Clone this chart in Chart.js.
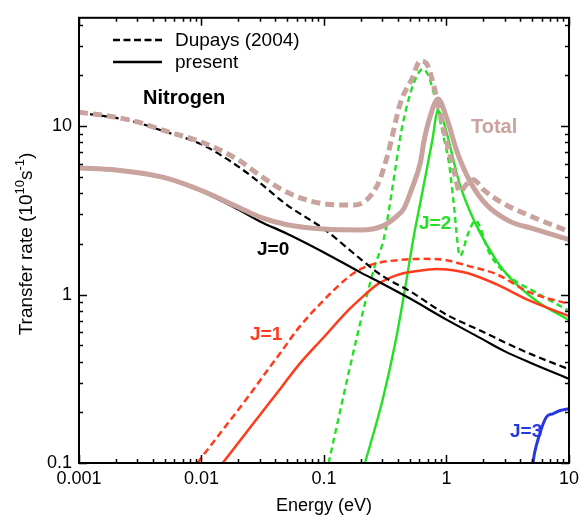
<!DOCTYPE html>
<html>
<head>
<meta charset="utf-8">
<script src="https://cdn.jsdelivr.net/npm/chart.js@4/dist/chart.umd.min.js"></script>
<style>
  html, body { margin: 0; padding: 0; background: #fff; }
</style>
</head>
<body>
<canvas id="c" width="584" height="520"></canvas>
<script>
// axis ticks
const xTicks = [0.001, 0.01, 0.1, 1, 10];
const xTickLabels = ['0.001', '0.01', '0.1', '1', '10'];
const yTicks = [0.1, 1, 10];
const yTickLabels = ['0.1', '1', '10'];
const yMax = 44;

// J=0
const j0PresentE = [0.001, 0.002, 0.003, 0.005, 0.01, 0.02, 0.03, 0.05, 0.1, 0.2, 0.3, 0.5, 1, 2, 3, 5, 10];
const j0PresentR = [5.6, 5.5, 5.25, 4.9, 4.1, 3.2, 2.72, 2.3, 1.78, 1.35, 1.16, 0.95, 0.71, 0.54, 0.46, 0.39, 0.316];
const j0DupaysE = [0.001, 0.002, 0.003, 0.005, 0.01, 0.02, 0.03, 0.05, 0.1, 0.2, 0.3, 0.5, 1, 2, 3, 5, 10];
const j0DupaysR = [12.0, 11.2, 10.5, 9.3, 7.8, 5.75, 4.6, 3.4, 2.45, 1.62, 1.29, 1.05, 0.76, 0.60, 0.52, 0.44, 0.36];

// J=1
const j1PresentE = [0.0149, 0.02, 0.03, 0.045, 0.0617, 0.1, 0.156, 0.2, 0.273, 0.4, 0.577, 0.83, 1, 1.5, 2.57, 4.78, 10];
const j1PresentR = [0.1, 0.132, 0.193, 0.282, 0.38, 0.56, 0.80, 0.95, 1.15, 1.31, 1.38, 1.42, 1.41, 1.34, 1.15, 0.92, 0.746];
const j1DupaysE = [0.00925, 0.015, 0.0243, 0.035, 0.045, 0.0617, 0.1, 0.156, 0.2, 0.273, 0.4, 0.65, 1, 1.5, 2.57, 4.78, 10];
const j1DupaysR = [0.1, 0.158, 0.25, 0.36, 0.46, 0.63, 0.93, 1.26, 1.42, 1.54, 1.6, 1.63, 1.60, 1.48, 1.32, 1.03, 0.88];

// J=2
const j2PresentE = [0.216, 0.3, 0.385, 0.45, 0.543, 0.614, 0.762, 0.853, 0.946, 1.29, 1.7, 2.57, 3.29, 5.4, 10];
const j2PresentR = [0.1, 0.235, 0.532, 1.0, 2.26, 3.57, 8.05, 12.4, 10.6, 4.47, 2.7, 1.58, 1.26, 0.92, 0.705];
const j2DupaysE = [0.109, 0.188, 0.257, 0.31, 0.36, 0.43, 0.51, 0.577, 0.634, 0.7, 0.8, 0.95, 1.05, 1.14, 1.29, 1.5, 1.72, 2.27, 3.5, 5, 10];
const j2DupaysR = [0.1, 0.582, 1.44, 2.2, 4.2, 9.5, 15.9, 20.0, 21.8, 20.5, 15.0, 8.5, 6.0, 3.6, 1.7, 2.3, 2.75, 1.73, 1.23, 1.06, 0.8];

// J=3
const j3PresentE = [5.08, 5.24, 5.57, 6.52, 7.38, 8.5, 10];
const j3PresentR = [0.1, 0.115, 0.137, 0.187, 0.196, 0.205, 0.21];

// Total
const totalPresentE = [0.001, 0.002, 0.005, 0.01, 0.02, 0.03, 0.05, 0.1, 0.2, 0.3, 0.4, 0.45, 0.51, 0.614, 0.653, 0.74, 0.853, 1.01, 1.22, 1.56, 2.13, 3.29, 5, 10];
const totalPresentR = [5.65, 5.5, 4.95, 4.15, 3.3, 2.88, 2.6, 2.45, 2.42, 2.55, 2.95, 3.25, 4.08, 6.14, 8.05, 11.6, 14.5, 11.0, 7.03, 4.68, 3.4, 2.72, 2.47, 2.12];
const totalDupaysE = [0.001, 0.002, 0.003, 0.005, 0.01, 0.02, 0.03, 0.05, 0.095, 0.177, 0.273, 0.33, 0.423, 0.52, 0.614, 0.7, 0.787, 0.946, 1.14, 1.29, 1.45, 1.66, 2.0, 2.73, 5, 10];
const totalDupaysR = [12.1, 11.3, 10.6, 9.4, 8.05, 6.3, 5.1, 4.05, 3.48, 3.4, 4.47, 6.71, 13.9, 19.0, 24.4, 23.0, 17.4, 9.64, 5.6, 4.08, 4.5, 4.8, 4.2, 3.57, 2.9, 2.37];

const BROWN = '#c9a39e';
const RED = '#ff3b1c';
const GREEN = '#22e022';
const BLUE = '#2638e0';
const FONT = '"Liberation Sans", Arial, Helvetica, sans-serif';

function pts(E, R) {
  return E.map((e, i) => ({ x: e, y: R[i] }));
}

function line(E, R, color, width, dash, order) {
  return {
    data: pts(E, R),
    borderColor: color,
    borderWidth: width,
    borderDash: dash || [],
    pointRadius: 0,
    fill: false,
    cubicInterpolationMode: 'monotone',
    order: order
  };
}

// inward ticks on all four sides, frame, labels and legend
const decor = {
  id: 'decor',
  afterDatasetsDraw(chart) {
    const { ctx, chartArea: a } = chart;
    const xs = chart.scales.x, ys = chart.scales.y;
    ctx.save();
    ctx.strokeStyle = '#000';
    ctx.lineWidth = 1.5;
    ctx.beginPath();
    xTicks.forEach(d => {
      for (let m = 1; m <= 9; m++) {
        const v = d * m;
        if (v > 10.0001) break;
        const px = Math.round(xs.getPixelForValue(v)) + 0.5;
        const len = m === 1 ? 8 : 4;
        ctx.moveTo(px, a.bottom); ctx.lineTo(px, a.bottom - len);
        ctx.moveTo(px, a.top); ctx.lineTo(px, a.top + len);
      }
    });
    yTicks.forEach(d => {
      for (let m = 1; m <= 9; m++) {
        const v = d * m;
        if (v > yMax) break;
        const py = Math.round(ys.getPixelForValue(v)) + 0.5;
        const len = m === 1 ? 8 : 4;
        ctx.moveTo(a.left, py); ctx.lineTo(a.left + len, py);
        ctx.moveTo(a.right, py); ctx.lineTo(a.right - len, py);
      }
    });
    ctx.stroke();

    ctx.lineWidth = 2;
    ctx.strokeRect(a.left, a.top, a.right - a.left, a.bottom - a.top);

    // legend
    ctx.lineWidth = 2.5;
    ctx.setLineDash([7, 3.5]);
    ctx.beginPath(); ctx.moveTo(113, 40); ctx.lineTo(162, 40); ctx.stroke();
    ctx.setLineDash([]);
    ctx.beginPath(); ctx.moveTo(113, 62); ctx.lineTo(162, 62); ctx.stroke();
    ctx.fillStyle = '#000';
    ctx.font = '19px ' + FONT;
    ctx.textAlign = 'left';
    ctx.textBaseline = 'alphabetic';
    ctx.fillText('Dupays (2004)', 175, 46);
    ctx.fillText('present', 175, 68);

    // curve labels
    ctx.font = 'bold 20px ' + FONT;
    ctx.fillStyle = '#000';
    ctx.fillText('Nitrogen', 143, 104);
    ctx.fillStyle = BROWN;
    ctx.fillText('Total', 471, 133);
    ctx.font = 'bold 19px ' + FONT;
    ctx.fillStyle = '#000';
    ctx.fillText('J=0', 257, 255);
    ctx.fillStyle = RED;
    ctx.fillText('J=1', 250, 340);
    ctx.fillStyle = GREEN;
    ctx.fillText('J=2', 419, 229);
    ctx.fillStyle = BLUE;
    ctx.fillText('J=3', 510, 437);

    // axis titles
    ctx.fillStyle = '#000';
    ctx.font = '18px ' + FONT;
    ctx.textAlign = 'center';
    ctx.fillText('Energy (eV)', (a.left + a.right) / 2, 511);

    ctx.translate(32, 244);
    ctx.rotate(-Math.PI / 2);
    const big = '19px ' + FONT, small = '13px ' + FONT;
    const parts = [['Transfer rate (10', big, 0], ['10', small, -8], ['s', big, 0], ['-1', small, -8], [')', big, 0]];
    let w = 0;
    parts.forEach(p => { ctx.font = p[1]; w += ctx.measureText(p[0]).width; });
    let x = -w / 2;
    ctx.textAlign = 'left';
    parts.forEach(p => {
      ctx.font = p[1];
      ctx.fillText(p[0], x, p[2]);
      x += ctx.measureText(p[0]).width;
    });
    ctx.restore();
  }
};

new Chart(document.getElementById('c'), {
  type: 'line',
  data: {
    datasets: [
      line(j0PresentE, j0PresentR, '#000', 2.2, null, 2),
      line(j0DupaysE, j0DupaysR, '#000', 2.2, [7, 4], 2),
      line(j1PresentE, j1PresentR, RED, 2.5, null, 2),
      line(j1DupaysE, j1DupaysR, RED, 2.5, [7, 4], 2),
      line(j2PresentE, j2PresentR, GREEN, 2.4, null, 2),
      line(j2DupaysE, j2DupaysR, GREEN, 2.4, [6, 4], 2),
      line(j3PresentE, j3PresentR, BLUE, 3, null, 2),
      line(totalPresentE, totalPresentR, BROWN, 5, null, 0),
      line(totalDupaysE, totalDupaysR, BROWN, 5, [9, 5], 0)
    ]
  },
  options: {
    responsive: false,
    animation: false,
    devicePixelRatio: 1,
    layout: { padding: { top: 15, right: 11, left: 0, bottom: 0 } },
    plugins: { legend: { display: false }, tooltip: { enabled: false } },
    scales: {
      x: {
        type: 'logarithmic',
        min: 0.001,
        max: 10,
        grid: { display: false, drawTicks: false },
        border: { display: false },
        afterBuildTicks: s => { s.ticks = xTicks.map(v => ({ value: v })); },
        afterFit: s => { s.height = 57; },
        ticks: {
          autoSkip: false,
          maxRotation: 0,
          padding: 5,
          color: '#000',
          font: { family: FONT, size: 18 },
          callback: (v, i) => xTickLabels[i]
        }
      },
      y: {
        type: 'logarithmic',
        min: 0.1,
        max: yMax,
        grid: { display: false, drawTicks: false },
        border: { display: false },
        afterBuildTicks: s => { s.ticks = yTicks.map(v => ({ value: v })); },
        afterFit: s => { s.width = 79; },
        ticks: {
          autoSkip: false,
          padding: 7,
          color: '#000',
          font: { family: FONT, size: 18 },
          callback: (v, i) => yTickLabels[i]
        }
      }
    }
  },
  plugins: [decor]
});
</script>
</body>
</html>
